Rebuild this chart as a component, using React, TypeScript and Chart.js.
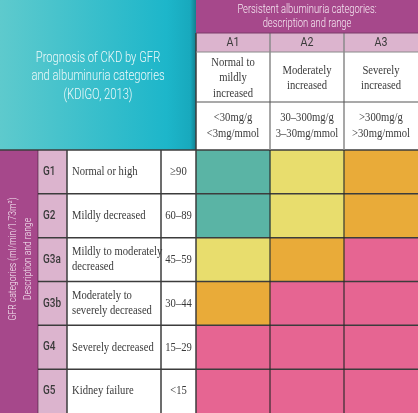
import React, { useEffect, useRef } from "react";
import { Chart, registerables } from "chart.js";

Chart.register(...registerables);

// ---- data ----
const gfrCodes = ["G1", "G2", "G3a", "G3b", "G4", "G5"];
const gfrDescriptions = [
  ["Normal or high"],
  ["Mildly decreased"],
  ["Mildly to moderately", "decreased"],
  ["Moderately to", "severely decreased"],
  ["Severely decreased"],
  ["Kidney failure"],
];
const gfrRanges = ["≥90", "60–89", "45–59", "30–44", "15–29", "<15"];
const albCodes = ["A1", "A2", "A3"];
const albDescriptions = [
  ["Normal to", "mildly", "increased"],
  ["Moderately", "increased"],
  ["Severely", "increased"],
];
const albRanges = [
  ["<30mg/g", "<3mg/mmol"],
  ["30–300mg/g", "3–30mg/mmol"],
  [">300mg/g", ">30mg/mmol"],
];
// risk level per GFR row for each albuminuria column (0 low .. 3 very high)
const riskA1 = [0, 0, 1, 2, 3, 3];
const riskA2 = [1, 1, 2, 3, 3, 3];
const riskA3 = [2, 2, 3, 3, 3, 3];
const riskByColumn = [riskA1, riskA2, riskA3];
const riskColors = ["#5ab4a5", "#e8dd6d", "#e9ab39", "#e66592"];
const titleLines = ["Prognosis of CKD by GFR", "and albuminuria categories", "(KDIGO, 2013)"];
const headerLines = ["Persistent albuminuria categories:", "description and range"];
const sideLines = ["GFR categories (ml/min/1.73m²)", "Description and range"];

// ---- layout ----
const W = 418;
const H = 413;
const HEADER_Y = [0, 33, 52, 102, 150];
const LEFT_X = [0, 38, 67, 161, 196];

const PURPLE = "#a6488b";
const PINK = "#dcb4ce";
const DARK = "#3c3c3c";
const TEXT = "#3a3a3a";
const SERIF = '12.5px "Liberation Serif"';
const SERIF_SX = 0.85;

function txt(ctx: CanvasRenderingContext2D, s: string, x: number, y: number, font: string, color: string, align: CanvasTextAlign = "center", sx = 1) {
  ctx.save();
  ctx.font = font;
  ctx.fillStyle = color;
  ctx.textAlign = align;
  ctx.textBaseline = "middle";
  ctx.translate(x, y);
  ctx.scale(sx, 1);
  ctx.fillText(s, 0, 0);
  ctx.restore();
}

function line(ctx: CanvasRenderingContext2D, x1: number, y1: number, x2: number, y2: number, color: string, w = 1.5) {
  ctx.save();
  ctx.strokeStyle = color;
  ctx.lineWidth = w;
  ctx.beginPath();
  ctx.moveTo(x1, y1);
  ctx.lineTo(x2, y2);
  ctx.stroke();
  ctx.restore();
}

const tablePlugin = {
  id: "kdigoTable",
  beforeDatasetsDraw(chart: any) {
    const ctx: CanvasRenderingContext2D = chart.ctx;
    const { left, right, top, bottom } = chart.chartArea;
    ctx.save();
    // title block
    const g = ctx.createLinearGradient(0, 0, left, 0);
    g.addColorStop(0, "#5ecacd");
    g.addColorStop(0.85, "#1db6ca");
    g.addColorStop(0.97, "#18a9bd");
    g.addColorStop(1, "#137f8f");
    ctx.fillStyle = g;
    ctx.fillRect(0, 0, left, top);
    // header purple + pink
    ctx.fillStyle = PURPLE;
    ctx.fillRect(left, HEADER_Y[0], right - left, HEADER_Y[1]);
    ctx.fillStyle = PINK;
    ctx.fillRect(left, HEADER_Y[1], right - left, HEADER_Y[2] - HEADER_Y[1]);
    // left side
    ctx.fillStyle = PURPLE;
    ctx.fillRect(LEFT_X[0], top, LEFT_X[1], bottom - top);
    ctx.fillStyle = PINK;
    ctx.fillRect(LEFT_X[1], top, LEFT_X[2] - LEFT_X[1], bottom - top);
    ctx.restore();
  },
  afterDatasetsDraw(chart: any) {
    const ctx: CanvasRenderingContext2D = chart.ctx;
    const { left, right, top, bottom } = chart.chartArea;
    const xs = chart.scales.x;
    const ys = chart.scales.y;
    const n = gfrCodes.length;
    const rowEdge = (i: number) =>
      i === 0 ? top : i === n ? bottom : (ys.getPixelForValue(i - 1) + ys.getPixelForValue(i)) / 2;
    const colEdge = (i: number) => xs.getPixelForValue(i);

    // body grid
    for (let i = 1; i < n; i++) line(ctx, LEFT_X[1], rowEdge(i), right, rowEdge(i), DARK, 1.5);
    line(ctx, 0, top, right, top, DARK, 1.5);
    for (let i = 1; i < albCodes.length; i++) line(ctx, colEdge(i), top, colEdge(i), bottom, "rgba(40,40,40,0.75)", 1.5);
    line(ctx, LEFT_X[1], top, LEFT_X[1], bottom, "rgba(60,30,50,0.6)", 1);
    line(ctx, LEFT_X[2], top, LEFT_X[2], bottom, DARK, 1.5);
    line(ctx, LEFT_X[3], top, LEFT_X[3], bottom, DARK, 1.5);
    line(ctx, left, HEADER_Y[1], left, bottom, DARK, 1.5);

    // header grid
    for (let i = 1; i < albCodes.length; i++) line(ctx, colEdge(i), HEADER_Y[1], colEdge(i), top, "#8a8a8a", 1.5);
    line(ctx, left, HEADER_Y[2], right, HEADER_Y[2], "#8a8a8a", 1.2);
    line(ctx, left, HEADER_Y[3], right, HEADER_Y[3], "#555555", 1.2);
    line(ctx, left, HEADER_Y[1], right, HEADER_Y[1], "#7a3a68", 1);

    // title
    titleLines.forEach((s, i) => txt(ctx, s, left / 2, 58 + i * 18.5, "300 14px Roboto", "#eef9fa", "center", 0.8));
    // header
    const hc = (left + right) / 2;
    headerLines.forEach((s, i) => txt(ctx, s, hc, 10 + i * 14, "300 12px Roboto", "#f6eaf3", "center", 0.78));
    albCodes.forEach((s, i) => {
      const cx = (colEdge(i) + colEdge(i + 1)) / 2;
      txt(ctx, s, cx, (HEADER_Y[1] + HEADER_Y[2]) / 2 + 0.5, "13px Roboto", TEXT, "center", 0.82);
      const d = albDescriptions[i];
      const dc = (HEADER_Y[2] + HEADER_Y[3]) / 2 + 1;
      d.forEach((s2, j) => txt(ctx, s2, cx, dc + (j - (d.length - 1) / 2) * 15.5, SERIF, TEXT, "center", SERIF_SX));
      const r = albRanges[i];
      const rc = (HEADER_Y[3] + HEADER_Y[4]) / 2;
      r.forEach((s2, j) => txt(ctx, s2, cx, rc + (j - (r.length - 1) / 2) * 16, SERIF, TEXT, "center", SERIF_SX));
    });

    // left rows
    gfrCodes.forEach((code, i) => {
      const cy = ys.getPixelForValue(i);
      txt(ctx, code, LEFT_X[1] + 5, cy, "500 12.5px Roboto", TEXT, "left", 0.8);
      const d = gfrDescriptions[i];
      d.forEach((s, j) => txt(ctx, s, LEFT_X[2] + 5, cy + (j - (d.length - 1) / 2) * 15, SERIF, TEXT, "left", SERIF_SX));
      txt(ctx, gfrRanges[i], (LEFT_X[3] + LEFT_X[4]) / 2, cy, SERIF, TEXT, "center", SERIF_SX);
    });

    // side rotated label
    const sc = 259;
    sideLines.forEach((s, i) => {
      ctx.save();
      ctx.translate(13 + i * 15, sc);
      ctx.rotate(-Math.PI / 2);
      txt(ctx, s, 0, 0, "300 11px Roboto", "#f6eaf3", "center", 0.78);
      ctx.restore();
    });
  },
};

export default function App() {
  const ref = useRef<HTMLCanvasElement | null>(null);
  useEffect(() => {
    document.body.style.margin = "0";
    const canvas = ref.current!;
    const chart = new Chart(canvas, {
      type: "bar",
      data: {
        labels: gfrCodes,
        datasets: albCodes.map((code, c) => ({
          label: code,
          data: gfrCodes.map(() => [c, c + 1]) as any,
          backgroundColor: riskByColumn[c].map((r) => riskColors[r]),
          borderWidth: 0,
          barPercentage: 1,
          categoryPercentage: 1,
          grouped: false,
        })),
      },
      options: {
        indexAxis: "y",
        responsive: false,
        animation: false,
        devicePixelRatio: 1,
        layout: { padding: { left: LEFT_X[4], top: HEADER_Y[4], right: 0, bottom: 0 } },
        plugins: { legend: { display: false }, tooltip: { enabled: false }, title: { display: false } },
        scales: {
          x: { type: "linear", min: 0, max: albCodes.length, display: false },
          y: { type: "category", display: false, offset: true },
        },
      } as any,
      plugins: [tablePlugin],
    });
    return () => chart.destroy();
  }, []);
  return (
    <div style={{ position: "absolute", left: 0, top: 0, width: W, height: H, background: "#fff" }}>
      <canvas ref={ref} width={W} height={H} style={{ width: W, height: H, display: "block" }} />
    </div>
  );
}
